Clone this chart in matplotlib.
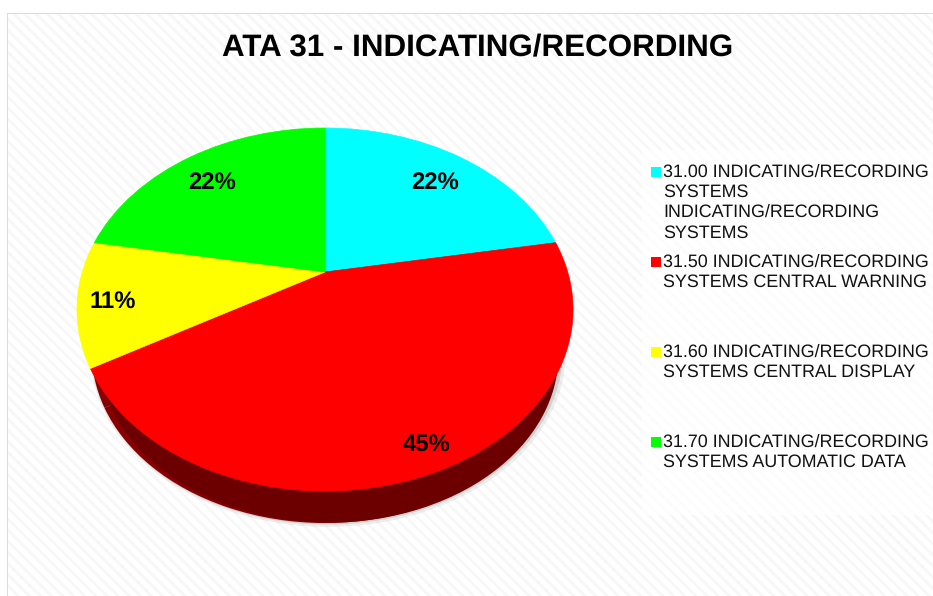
import matplotlib
matplotlib.use('Agg')
import matplotlib.pyplot as plt
from matplotlib.patches import Rectangle
from matplotlib.transforms import Transform
import numpy as np

# ATA 31 pie, top face is seen in perspective
values = [22.2, 44.5, 11.1, 22.2]
pct_labels = ['22%', '45%', '11%', '22%']
colors = ['#00ffff', '#ff0000', '#ffff00', '#00ff00']
side_colors = ['#8a0000', '#8a0000', '#8a0000', '#8a0000']
legend_labels = [
    ['31.00 INDICATING/RECORDING', 'SYSTEMS', 'INDICATING/RECORDING', 'SYSTEMS'],
    ['31.50 INDICATING/RECORDING', 'SYSTEMS CENTRAL WARNING'],
    ['31.60 INDICATING/RECORDING', 'SYSTEMS CENTRAL DISPLAY'],
    ['31.70 INDICATING/RECORDING', 'SYSTEMS AUTOMATIC DATA'],
]
title = 'ATA 31 - INDICATING/RECORDING'

# layout in pixels
label_pos = [(435, 183), (427, 445), (113, 302), (212, 183)]
legend_y = [172, 262, 352, 442]
line_step = 20.3


class Perspective(Transform):
    input_dims = 2
    output_dims = 2

    def __init__(self, scale=1.0, dx=0.0, dy=0.0):
        super().__init__()
        self.scale = scale
        self.dx = dx
        self.dy = dy

    def transform_non_affine(self, xy):
        xy = np.asarray(xy)
        k = 0.2066
        d = 1 + k * xy[:, 1]
        px = 325 + self.dx + self.scale * 242.7 * xy[:, 0] / d
        py = 272 + self.dy - self.scale * 173.75 * xy[:, 1] / d
        return np.column_stack([px, py])


plt.rcParams['font.family'] = ['Liberation Sans', 'DejaVu Sans']
plt.rcParams['hatch.linewidth'] = 2.0
plt.rcParams['hatch.color'] = '#f7f7f7'
plt.rcParams['text.hinting'] = 'none'

fig = plt.figure(figsize=(9.33, 5.96), dpi=100)
ax = fig.add_axes([0, 0, 1, 1])

# soft shadow, then the rim in two reds, then the top face
for scale, dx, dy, c, a in [(0.95, 2, 44.5, '#a8a8a8', 0.45), (0.958, 3, 45, '#c8c8c8', 0.3)]:
    shadow, _ = ax.pie(values, colors=[c] * 4, startangle=90, counterclock=False)
    for w in shadow:
        w.set_transform(Perspective(scale, dx, dy) + ax.transData)
        w.set_alpha(a)
side, _ = ax.pie(values, colors=side_colors, startangle=90, counterclock=False)
for w in side:
    w.set_transform(Perspective(0.94, 0, 45.1) + ax.transData)
dark, _ = ax.pie(values, colors=['#6c0000'] * 4, startangle=90, counterclock=False)
for w in dark:
    w.set_transform(Perspective(0.925, 4, 48) + ax.transData)
top, _ = ax.pie(values, colors=colors, startangle=90, counterclock=False)
for w in top:
    w.set_transform(Perspective() + ax.transData)
    w.set_edgecolor(w.get_facecolor())
    w.set_linewidth(0.5)

ax.set_aspect('auto')
ax.set_xlim(0, 933)
ax.set_ylim(596, 0)
ax.axis('off')

ax.add_patch(Rectangle((7.5, 13.5), 930, 590, facecolor='white', edgecolor='#dcdcdc',
                       linewidth=1.5, zorder=0))
ax.add_patch(Rectangle((8, 14), 930, 590, facecolor='white', edgecolor='#f7f7f7',
                       linewidth=0, hatch='\\\\\\', zorder=0.1))
ax.add_patch(Rectangle((642, 150), 291, 365, facecolor='white', alpha=0.75,
                       linewidth=0, zorder=0.2))

ax.text(478, 48, title, fontsize=22.6, fontweight='bold', ha='center', va='center')

for lab, (x, y) in zip(pct_labels, label_pos):
    ax.text(x, y, lab, fontsize=17.2, fontweight='bold', ha='center', va='center')

for lines, y, c in zip(legend_labels, legend_y, colors):
    ax.add_patch(Rectangle((651, y - 5.5), 10, 10, facecolor=c, linewidth=0))
    for i, line in enumerate(lines):
        ax.text(663, y + i * line_step, line, fontsize=12.85, color='#111111', va='center')

fig.savefig('out.png', dpi=100)
